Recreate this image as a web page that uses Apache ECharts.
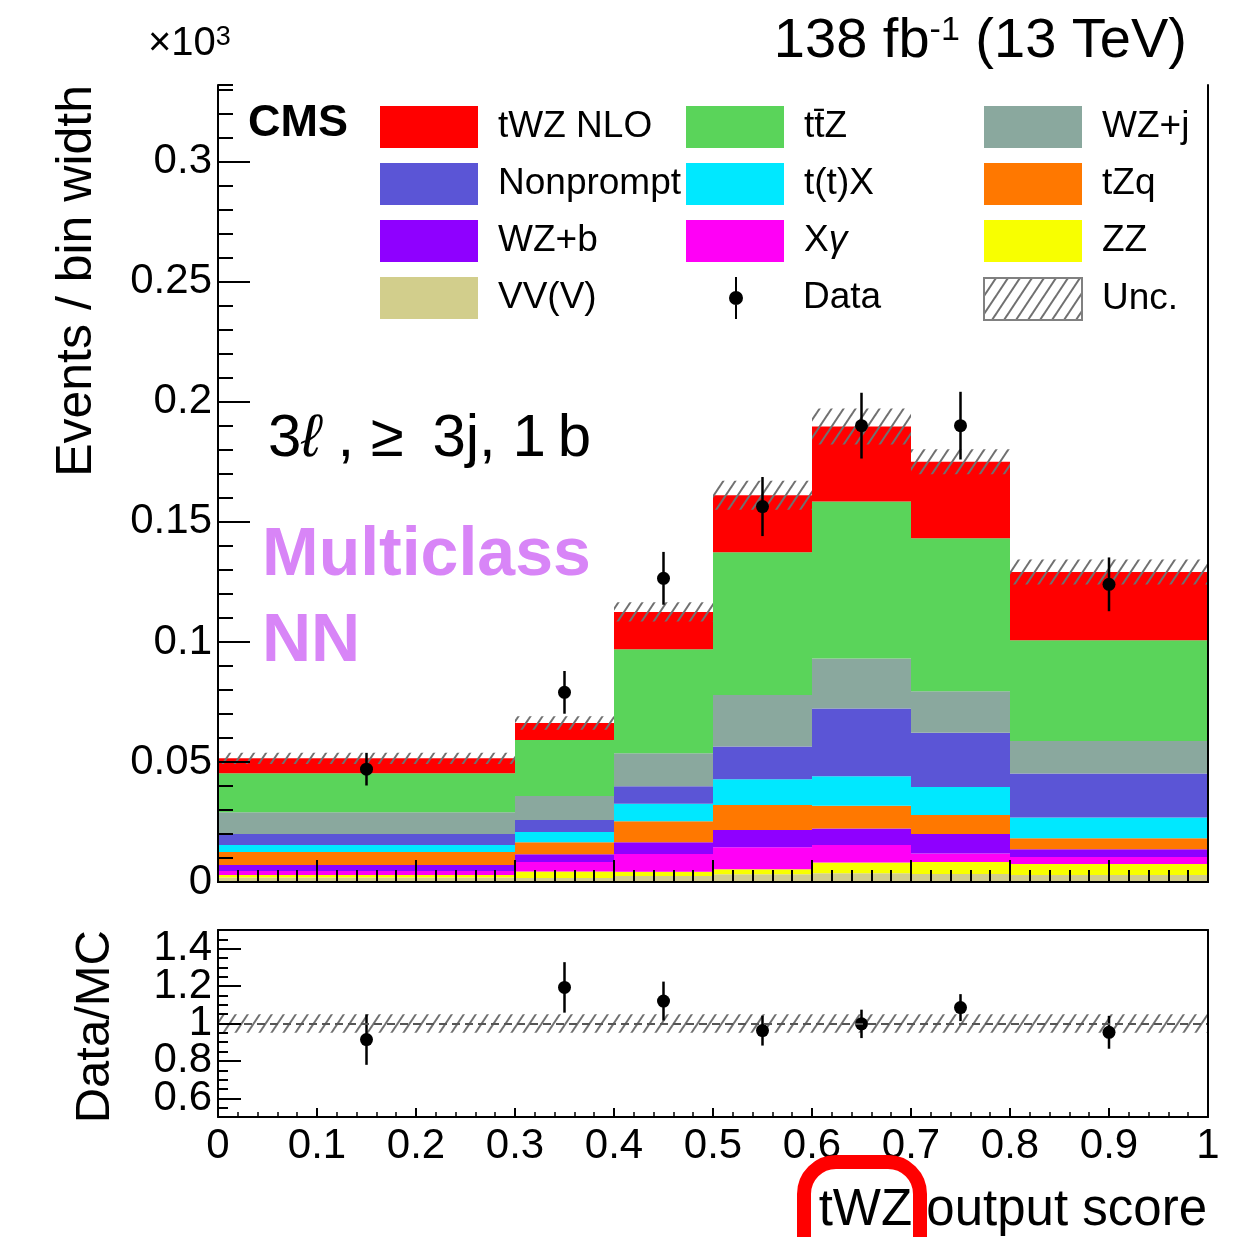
<!DOCTYPE html>
<html>
<head>
<meta charset="utf-8">
<title>tWZ output score</title>
<script src="https://cdn.jsdelivr.net/npm/echarts@6/dist/echarts.min.js"></script>
<style>
html, body { margin:0; padding:0; background:#fff; }
#chart { width:1250px; height:1237px; }
</style>
</head>
<body>
<div id="chart"></div>
<script>
var binEdges = [0, 0.3, 0.4, 0.5, 0.6, 0.7, 0.8, 1.0];

// backgrounds, bottom of the stack first (events / bin width, x10^3)
var vvv       = [0.0019, 0.0017, 0.0025, 0.0032, 0.0036, 0.0033, 0.0029];
var zz        = [0.0010, 0.0027, 0.0018, 0.0021, 0.0045, 0.0050, 0.0046];
var xgamma    = [0.0017, 0.0039, 0.0074, 0.0092, 0.0073, 0.0036, 0.0029];
var wzb       = [0.0025, 0.0033, 0.0049, 0.0072, 0.0069, 0.0081, 0.0032];
var tzq       = [0.0054, 0.0050, 0.0087, 0.0104, 0.0095, 0.0079, 0.0046];
var ttx       = [0.0029, 0.0042, 0.0073, 0.0107, 0.0123, 0.0117, 0.0087];
var nonprompt = [0.0046, 0.0050, 0.0073, 0.0136, 0.0282, 0.0226, 0.0183];
var wzj       = [0.0091, 0.0100, 0.0137, 0.0215, 0.0208, 0.0173, 0.0135];
var ttz       = [0.0162, 0.0233, 0.0434, 0.0595, 0.0654, 0.0637, 0.0420];
var twz       = [0.0062, 0.0071, 0.0155, 0.0237, 0.0312, 0.0319, 0.0284];

var mcUnc   = [0.0023, 0.0028, 0.0040, 0.0060, 0.0075, 0.0052, 0.0052];
var dataVal = [0.0470, 0.0790, 0.1265, 0.1564, 0.1901, 0.1901, 0.1240];
var dataErr = [0.0068, 0.0089, 0.0110, 0.0123, 0.0137, 0.0141, 0.0112];

var ratioVal = [0.914, 1.193, 1.120, 0.962, 0.998, 1.085, 0.953];
var ratioErr = [0.135, 0.135, 0.104, 0.080, 0.076, 0.072, 0.088];
var ratioUnc = [0.05, 0.05, 0.05, 0.05, 0.05, 0.05, 0.05];

var yTicks = [0, 0.05, 0.1, 0.15, 0.2, 0.25, 0.3];
var ratioTicks = [0.6, 0.8, 1, 1.2, 1.4];

var processes = [
    {name:"VV(V)", values:vvv, color:"#d2ce8c"},
    {name:"ZZ", values:zz, color:"#f8ff00"},
    {name:"Xγ", values:xgamma, color:"#ff00f6"},
    {name:"WZ+b", values:wzb, color:"#8f00ff"},
    {name:"tZq", values:tzq, color:"#ff7800"},
    {name:"t(t)X", values:ttx, color:"#00e8ff"},
    {name:"Nonprompt", values:nonprompt, color:"#5b55d6"},
    {name:"WZ+j", values:wzj, color:"#8aa89e"},
    {name:"tt̄Z", values:ttz, color:"#5ad45a"},
    {name:"tWZ NLO", values:twz, color:"#ff0000"}
];

var FONT = "'Liberation Sans', Arial, Helvetica, sans-serif";

function hatch(step, height, color){
    let c = document.createElement("canvas");
    c.width = step;
    c.height = height;
    let ctx = c.getContext("2d");
    ctx.strokeStyle = color;
    ctx.lineWidth = 2;
    [[-step, height, step, -height], [0, height, step, 0], [0, 2*height, 2*step, 0]].forEach(function(l){
        ctx.beginPath();
        ctx.moveTo(l[0], l[1]);
        ctx.lineTo(l[2], l[3]);
        ctx.stroke();
    });
    return {image:c, repeat:"repeat"};
}
var hatchPattern = hatch(12, 18, "#707070");

function renderBox(params, api){
    let p0 = api.coord([api.value(0), api.value(3)]);
    let p1 = api.coord([api.value(1), api.value(2)]);
    return {
        type:"rect",
        shape:{x:p0[0], y:p0[1], width:p1[0] - p0[0], height:p1[1] - p0[1]},
        style:{fill:api.visual("color")}
    };
}

function renderPoint(params, api){
    let c = api.coord([api.value(0), api.value(1)]);
    let lo = api.coord([api.value(0), api.value(1) - api.value(2)]);
    let hi = api.coord([api.value(0), api.value(1) + api.value(2)]);
    return {
        type:"group",
        children:[
            {type:"line", shape:{x1:c[0], y1:hi[1], x2:c[0], y2:lo[1]}, style:{stroke:"#000", lineWidth:2.5}},
            {type:"circle", shape:{cx:c[0], cy:c[1], r:6.5}, style:{fill:"#000"}}
        ]
    };
}

let series = [];
let base = binEdges.slice(1).map(function(){ return 0; });
processes.forEach(function(p){
    let rows = p.values.map(function(v, i){
        let row = [binEdges[i], binEdges[i+1], base[i], base[i] + v];
        base[i] += v;
        return row;
    });
    series.push({
        name:p.name,
        type:"custom",
        xAxisIndex:0,
        yAxisIndex:0,
        itemStyle:{color:p.color},
        encode:{x:[0,1], y:[2,3]},
        renderItem:renderBox,
        data:rows
    });
});

series.push({
    name:"Unc.",
    type:"custom",
    xAxisIndex:0,
    yAxisIndex:0,
    itemStyle:{color:hatchPattern},
    encode:{x:[0,1], y:[2,3]},
    renderItem:renderBox,
    data:base.map(function(t, i){
        return [binEdges[i], binEdges[i+1], t - mcUnc[i], t + mcUnc[i]];
    })
});

series.push({
    name:"Data",
    type:"custom",
    xAxisIndex:0,
    yAxisIndex:0,
    itemStyle:{color:"#000"},
    renderItem:renderPoint,
    data:dataVal.map(function(v, i){
        return [(binEdges[i] + binEdges[i+1]) / 2, v, dataErr[i]];
    })
});

series.push({
    name:"ratio unc",
    type:"custom",
    xAxisIndex:2,
    yAxisIndex:3,
    itemStyle:{color:hatchPattern},
    encode:{x:[0,1], y:[2,3]},
    renderItem:renderBox,
    data:ratioUnc.map(function(u, i){
        return [binEdges[i], binEdges[i+1], 1 - u, 1 + u];
    }),
    markLine:{
        silent:true,
        symbol:"none",
        label:{show:false},
        lineStyle:{color:"#555", width:2, type:[8,5]},
        data:[{yAxis:1}]
    }
});

series.push({
    name:"ratio",
    type:"custom",
    xAxisIndex:2,
    yAxisIndex:3,
    itemStyle:{color:"#000"},
    renderItem:renderPoint,
    data:ratioVal.map(function(v, i){
        return [(binEdges[i] + binEdges[i+1]) / 2, v, ratioErr[i]];
    })
});

let frameLine = {lineStyle:{color:"#000", width:2}};
let legendText = {
    fontSize:37, fontFamily:FONT, color:"#000", lineHeight:42, padding:[0,0,0,15],
    rich:{i:{fontSize:37, fontFamily:FONT, fontStyle:"italic", color:"#000", lineHeight:42}}
};
function legendCol(left, top, names, w){
    return {
        left:left, top:top, orient:"vertical", padding:0,
        itemWidth:w || 98, itemHeight:42, itemGap:15,
        icon:"rect", selectedMode:false,
        textStyle:legendText,
        formatter:function(name){
            return name === "Xγ" ? "X{i|γ}" : name;
        },
        data:names
    };
}
let dataLegend = legendCol(729, 277, [{name:"Data", icon:"path://M6,0H8V42H6Z M14,21A7,7,0,1,1,0,21A7,7,0,1,1,14,21Z"}], 14);
dataLegend.textStyle = Object.assign({}, legendText, {padding:[0,0,0,55]});

// ratio labels split over two overlaid axes so none of them is dropped as overlapping
function ratioLabel(values){
    return {customValues:values, fontSize:42, lineHeight:30, fontFamily:FONT, color:"#000", margin:6,
        hideOverlap:false, showMinLabel:true, showMaxLabel:true};
}

let mycharts = echarts.init(document.getElementById("chart"));
mycharts.setOption({
    animation:false,
    backgroundColor:"#fff",
    grid:[
        {left:218, top:85, width:990, height:797},
        {left:218, top:85, width:990, height:797},
        {left:218, top:930, width:990, height:187},
        {left:218, top:930, width:990, height:187}
    ],
    legend:[
        legendCol(380, 106, ["tWZ NLO", "Nonprompt", "WZ+b", "VV(V)"]),
        legendCol(686, 106, ["tt̄Z", "t(t)X", "Xγ"]),
        dataLegend,
        legendCol(983, 106, ["WZ+j", "tZq", "ZZ", {name:"Unc.", itemStyle:{borderColor:"#808080", borderWidth:2}}])
    ],
    xAxis:[
        {gridIndex:0, type:"value", min:0, max:1, interval:0.1, position:"bottom", z:10,
         axisLine:frameLine,
         axisTick:{inside:true, length:22, lineStyle:{color:"#000", width:2}},
         minorTick:{show:true, splitNumber:5, length:12, lineStyle:{color:"#000", width:2}},
         axisLabel:{show:false}, splitLine:{show:false}},
        {gridIndex:1, type:"value", min:0, max:1, position:"top", z:10,
         axisLine:frameLine, axisTick:{show:false}, axisLabel:{show:false}, splitLine:{show:false}},
        {gridIndex:2, type:"value", min:0, max:1, interval:0.1, position:"bottom", z:10,
         axisLine:frameLine,
         axisTick:{inside:true, length:9, lineStyle:{color:"#000", width:2}},
         minorTick:{show:true, splitNumber:5, length:5, lineStyle:{color:"#000", width:1.5}},
         axisLabel:{fontSize:42, fontFamily:FONT, color:"#000", margin:8},
         splitLine:{show:false}},
        {gridIndex:3, type:"value", min:0, max:1, position:"top", z:10,
         axisLine:frameLine, axisTick:{show:false}, axisLabel:{show:false}, splitLine:{show:false}}
    ],
    yAxis:[
        {gridIndex:0, type:"value", min:0, max:0.332, position:"left", z:10,
         axisLine:frameLine,
         axisTick:{inside:true, length:32, customValues:yTicks, lineStyle:{color:"#000", width:2}},
         axisLabel:{customValues:yTicks, fontSize:42, fontFamily:FONT, color:"#000", margin:6},
         splitLine:{show:false}},
        {gridIndex:0, type:"value", min:0, max:0.332, position:"right", z:10,
         axisLine:frameLine, axisTick:{show:false}, axisLabel:{show:false}, splitLine:{show:false}},
        {gridIndex:1, type:"value", min:0, max:0.332, interval:0.01, position:"left", z:10,
         axisLine:{show:false},
         axisTick:{inside:true, length:15, lineStyle:{color:"#000", width:2}},
         axisLabel:{show:false}, splitLine:{show:false}},
        {gridIndex:2, type:"value", min:0.5, max:1.5, position:"left", z:10,
         axisLine:frameLine,
         axisTick:{inside:true, length:23, customValues:ratioTicks, lineStyle:{color:"#000", width:2}},
         axisLabel:ratioLabel(ratioTicks.filter(function(v, i){ return i % 2 === 0; })),
         splitLine:{show:false}},
        {gridIndex:2, type:"value", min:0.5, max:1.5, position:"right", z:10,
         axisLine:frameLine, axisTick:{show:false}, axisLabel:{show:false}, splitLine:{show:false}},
        {gridIndex:3, type:"value", min:0.5, max:1.5, interval:0.05, position:"left", z:10,
         axisLine:{show:false},
         axisTick:{inside:true, length:10, lineStyle:{color:"#000", width:2}},
         axisLabel:ratioLabel(ratioTicks.filter(function(v, i){ return i % 2 === 1; })),
         splitLine:{show:false}}
    ],
    graphic:[
        {type:"text", left:148, top:24, z:100,
         style:{text:"{a|×10}{b|3}", rich:{
            a:{fontSize:40, fontFamily:FONT, fill:"#000", verticalAlign:"bottom"},
            b:{fontSize:27, fontFamily:FONT, fill:"#000", verticalAlign:"top"}}}},
        {type:"text", right:63, top:14, z:100,
         style:{text:"{a|138 fb}{b|-1}{a| (13 TeV)}", rich:{
            a:{fontSize:56, fontFamily:FONT, fill:"#000", verticalAlign:"bottom"},
            b:{fontSize:34, fontFamily:FONT, fill:"#000", verticalAlign:"top"}}}},
        {type:"text", left:248, top:101, z:100,
         style:{text:"CMS", fontSize:45, fontWeight:"bold", fontFamily:FONT, fill:"#000"}},
        {type:"text", left:268, top:409, z:100,
         style:{text:"3{l|ℓ} , ≥ \u20093j, 1\u2009b", fontSize:60, fontFamily:FONT, fill:"#000",
            rich:{l:{fontSize:60, fontFamily:FONT, fontStyle:"italic", fill:"#000"}}}},
        {type:"text", left:262, top:522, z:100,
         style:{text:"Multiclass", fontSize:68, fontWeight:"bold", fontFamily:FONT, fill:"#d885f7"}},
        {type:"text", left:262, top:608, z:100,
         style:{text:"NN", fontSize:68, fontWeight:"bold", fontFamily:FONT, fill:"#d885f7"}},
        {type:"text", x:77, y:85, rotation:Math.PI / 2, z:100,
         style:{text:"Events / bin width", fontSize:50, fontFamily:FONT, fill:"#000", align:"right", verticalAlign:"middle"}},
        {type:"text", x:95, y:930, rotation:Math.PI / 2, z:100,
         style:{text:"Data/MC", fontSize:49, fontFamily:FONT, fill:"#000", align:"right", verticalAlign:"middle"}},
        {type:"text", x:1207, y:1211, z:100,
         style:{text:"tWZ output score", fontSize:51, fontFamily:FONT, fill:"#000", align:"right", verticalAlign:"middle"}},
        {type:"rect", z:101,
         shape:{x:804, y:1162, width:116, height:140, r:32},
         style:{fill:"transparent", stroke:"#ff0000", lineWidth:14}}
    ],
    series:series
});
</script>
</body>
</html>
